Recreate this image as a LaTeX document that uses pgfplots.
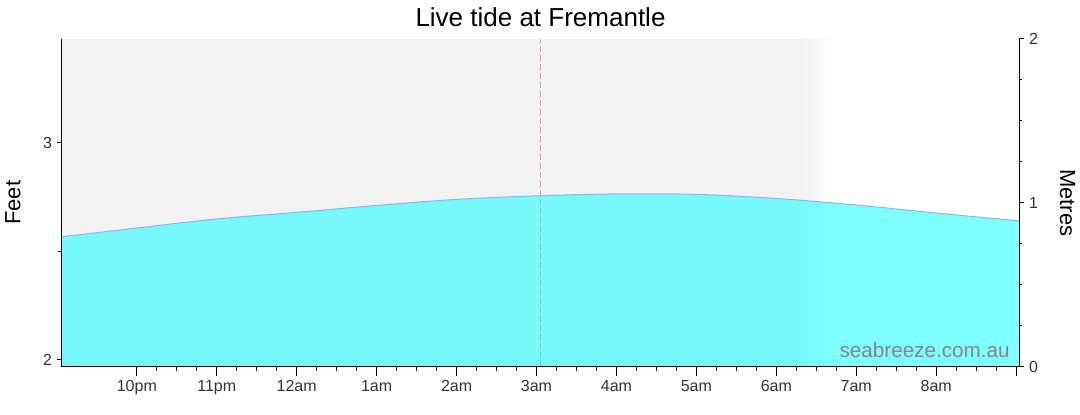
\documentclass[border=0pt]{standalone}
\usepackage{fontspec}
\setmainfont{Liberation Sans}
\usepackage{pgfplots}
\pgfplotsset{compat=1.18}

\definecolor{nightgrey}{HTML}{F2F2F2}
\definecolor{tidecyan}{HTML}{00FFFF}
\definecolor{tideline}{HTML}{8CB4F5}
\definecolor{nowline}{HTML}{EE9A9A}
\definecolor{ticktext}{HTML}{333333}
\definecolor{markgrey}{HTML}{858585}

% tide height in feet, x in hours (24 = midnight)
\pgfplotstableread{
h      ft
21.06  2.567
22.0   2.607
23.0   2.649
24.0   2.679
25.0   2.711
26.0   2.739
27.0   2.755
28.0   2.764
29.0   2.762
30.0   2.743
31.0   2.713
32.0   2.676
33.04  2.640
}\tide

\pgfplotsset{
  common/.style={
    scale only axis, width=718.2pt, height=245.8pt,
    xmin=21.06, xmax=33.04,
    tick align=outside,
    axis line style={-, black, line width=0.9pt},
    every tick/.style={black, line width=0.75pt},
    tick label style={text=ticktext, font=\fontsize{12}{14}\selectfont},
    /pgf/number format/assume math mode=true,
  },
}

\begin{document}
\begin{tikzpicture}
\useasboundingbox (-46.275pt,-35.475pt) rectangle (763.725pt,275.025pt);

% time axis with the data
\begin{axis}[common,
    ymin=1.969, ymax=3.477,
    axis x line*=bottom, hide y axis,
    xtick={22,...,33},
    xticklabels={10pm,11pm,12am,1am,2am,3am,4am,5am,6am,7am,8am,{}},
    minor x tick num=3,
    major tick length=6.75pt, minor tick length=3pt,
    axis on top,
    title={Live tide at Fremantle},
    title style={at={(0.5,1)}, anchor=base, yshift=3.5pt,
                 font=\fontsize{19.5}{22}\selectfont},
]
  % night shading
  \addplot[draw=none, fill=nightgrey] coordinates
    {(21.06,1.969) (21.06,3.477) (30.34,3.477) (30.34,1.969)} -- cycle;
  \addplot[draw=none, left color=nightgrey, right color=white] coordinates
    {(30.33,1.969) (30.33,3.477) (30.72,3.477) (30.72,1.969)} -- cycle;
  % now
  \addplot[nowline, line width=0.75pt, dash pattern=on 4.5pt off 2.25pt]
    coordinates {(27.05,1.969) (27.05,3.477)};
  % tide
  \addplot[draw=none, fill=tidecyan, fill opacity=0.5, smooth]
    table[x=h, y=ft] {\tide} \closedcycle;
  \addplot[tideline, line width=0.75pt, smooth] table[x=h, y=ft] {\tide};
  \node[anchor=base east, text=markgrey, font=\fontsize{15.5}{18}\selectfont]
    at (rel axis cs:1,0) [xshift=-3.75pt, yshift=6.75pt] {seabreeze.com.au};
\end{axis}

% feet
\begin{axis}[common,
    ymin=1.969, ymax=3.477,
    hide x axis, axis y line*=left,
    ytick={2,3}, minor ytick={2.5},
    major tick length=3.75pt, minor tick length=2.5pt,
    ylabel={Feet},
    every axis y label/.style={at={(axis description cs:-0.051,0.5)},
      rotate=90, anchor=center, font=\fontsize{16.5}{20}\selectfont},
]
\end{axis}

% metres
\begin{axis}[common,
    ymin=0, ymax=2,
    hide x axis, axis y line*=right,
    ytick={0,1,2}, minor y tick num=3,
    major tick length=3.75pt, minor tick length=2.25pt,
    ylabel={Metres},
    every axis y label/.style={at={(axis description cs:1.0504,0.5)},
      rotate=-90, anchor=center, font=\fontsize{16.5}{20}\selectfont},
]
\end{axis}
\end{tikzpicture}
\end{document}
